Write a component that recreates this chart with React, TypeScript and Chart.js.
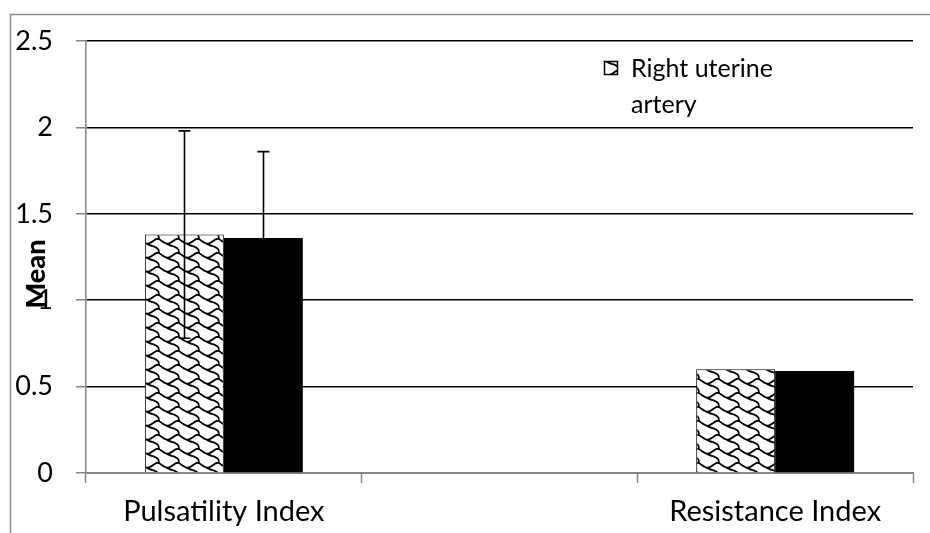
import React, { useEffect, useRef } from 'react';
import { Chart, registerables } from 'chart.js';

Chart.register(...registerables);

const categories = ['Pulsatility Index', '', 'Resistance Index'];
const rightUterine: (number | null)[] = [1.38, null, 0.6];
const leftUterine: (number | null)[] = [1.36, null, 0.59];
const rightErr = [0.6, 0, 0];
const leftErr = [0.5, 0, 0];
const yTicks = [0, 0.5, 1, 1.5, 2, 2.5];
const legendLines = ['Right uterine', 'artery'];
const yTitle = 'Mean';

const FONT = 'Lato, "Open Sans", sans-serif';
const GRAY = '#868686';

function makePattern(): CanvasPattern | string {
  const W = 20;
  const H = 14;
  const c = document.createElement('canvas');
  c.width = W;
  c.height = H;
  const g = c.getContext('2d');
  if (!g) return '#fff';
  g.fillStyle = '#fff';
  g.fillRect(0, 0, W, H);
  g.strokeStyle = '#000';
  g.lineWidth = 1.8;
  g.lineJoin = 'round';
  g.lineCap = 'round';
  const px = (cx: number) => ((cx + 0.5) * W) / 8;
  const py = (cy: number) => ((cy + 0.5) * H) / 8;
  const cup: [number, number][] = [[-1, 0], [0, 1], [1, 2], [2.5, 3], [4, 2], [5, 1], [6, 0], [7, 0]];
  const tail: [number, number][] = [[2.5, 3], [4, 4], [5, 4.2], [6, 5], [7, 6], [7, 8]];
  const drawSmooth = (pts: [number, number][], dx: number, dy: number) => {
    g.beginPath();
    const P = pts.map(([a, b]) => [px(a) + dx, py(b) + dy]);
    g.moveTo(P[0][0], P[0][1]);
    for (let i = 1; i < P.length - 1; i++) {
      const mx = (P[i][0] + P[i + 1][0]) / 2;
      const my = (P[i][1] + P[i + 1][1]) / 2;
      g.quadraticCurveTo(P[i][0], P[i][1], mx, my);
    }
    const last = P[P.length - 1];
    g.lineTo(last[0], last[1]);
    g.stroke();
  };
  for (const dx of [-W, 0, W]) {
    for (const dy of [-H, 0, H]) {
      drawSmooth(cup, dx, dy);
      drawSmooth(tail, dx, dy);
    }
  }
  const p = g.createPattern(c, 'repeat');
  return p || '#fff';
}

export default function App() {
  const ref = useRef<HTMLCanvasElement | null>(null);

  useEffect(() => {
    document.body.style.margin = '0';
    const canvas = ref.current;
    if (!canvas) return;
    const pattern = makePattern();

    const framePlugin = {
      id: 'frame',
      beforeDraw(chart: any) {
        const ctx = chart.ctx;
        ctx.save();
        ctx.fillStyle = '#fff';
        ctx.fillRect(0, 0, chart.width, chart.height);
        ctx.strokeStyle = '#8c8c8c';
        ctx.lineWidth = 1.5;
        ctx.beginPath();
        ctx.moveTo(10.5, chart.height + 2);
        ctx.lineTo(10.5, 14.5);
        ctx.lineTo(chart.width + 2, 14.5);
        ctx.stroke();
        ctx.restore();
      },
    };

    const errorPlugin = {
      id: 'errorBars',
      afterDatasetsDraw(chart: any) {
        const ctx = chart.ctx;
        const ys = chart.scales.y;
        [rightErr, leftErr].forEach((errs, di) => {
          const meta = chart.getDatasetMeta(di);
          meta.data.forEach((bar: any, i: number) => {
            const v = chart.data.datasets[di].data[i];
            const e = errs[i];
            if (v == null || !e) return;
            const x = Math.round(bar.x) + 0.5;
            const top = ys.getPixelForValue(v + e);
            const bot = ys.getPixelForValue(v - e);
            ctx.save();
            ctx.strokeStyle = '#000';
            ctx.lineWidth = 1.6;
            ctx.beginPath();
            ctx.moveTo(x, top);
            ctx.lineTo(x, bot);
            ctx.moveTo(x - 6, top);
            ctx.lineTo(x + 6, top);
            ctx.moveTo(x - 6, bot);
            ctx.lineTo(x + 6, bot);
            ctx.stroke();
            ctx.restore();
          });
        });
      },
    };

    const legendPlugin = {
      id: 'customLegend',
      afterDraw(chart: any) {
        const ctx = chart.ctx;
        const a = chart.chartArea;
        const bx = a.left + 518;
        const by = a.top + 20;
        ctx.save();
        ctx.fillStyle = pattern as any;
        ctx.fillRect(bx, by, 14, 14);
        ctx.strokeStyle = '#000';
        ctx.lineWidth = 1.5;
        ctx.strokeRect(bx + 0.5, by + 0.5, 13, 13);
        ctx.fillStyle = '#000';
        ctx.font = `25px ${FONT}`;
        ctx.textBaseline = 'alphabetic';
        ctx.textAlign = 'left';
        legendLines.forEach((line, i) => {
          ctx.fillText(line, bx + 27, by + 16 + i * 36);
        });
        // y-axis title
        ctx.font = `900 27px ${FONT}`;
        ctx.translate(45, 274);
        ctx.rotate(-Math.PI / 2);
        ctx.textAlign = 'center';
        ctx.textBaseline = 'alphabetic';
        ctx.fillText(yTitle, 0, 0);
        ctx.restore();
      },
    };

    const chart = new Chart(canvas, {
      type: 'bar',
      data: {
        labels: categories,
        datasets: [
          {
            label: 'Right uterine artery',
            data: rightUterine,
            backgroundColor: pattern as any,
            borderColor: '#000',
            borderWidth: 1,
            borderSkipped: 'bottom',
            categoryPercentage: 0.573,
            barPercentage: 1,
          },
          {
            label: 'Left uterine artery',
            data: leftUterine,
            backgroundColor: '#000',
            borderColor: '#000',
            borderWidth: 0,
            categoryPercentage: 0.573,
            barPercentage: 1,
          },
        ],
      },
      options: {
        responsive: false,
        animation: false,
        layout: { padding: { left: 0, top: 41, right: 17, bottom: 0 } },
        plugins: {
          legend: { display: false },
          tooltip: { enabled: false },
        },
        scales: {
          x: {
            grid: {
              offset: true,
              drawOnChartArea: false,
              drawTicks: true,
              tickLength: 10,
              tickColor: GRAY,
              tickWidth: 1.5,
            },
            border: { color: GRAY, width: 1.5 },
            ticks: {
              color: '#000',
              font: { family: FONT, size: 29 },
              padding: 11,
              maxRotation: 0,
              autoSkip: false,
            },
            afterFit(scale: any) {
              scale.height = 60;
            },
          },
          y: {
            min: 0,
            max: 2.5,
            afterBuildTicks(scale: any) {
              scale.ticks = yTicks.map((v) => ({ value: v }));
            },
            grid: {
              color: '#000',
              lineWidth: 1.5,
              drawTicks: true,
              tickLength: 10,
              tickColor: GRAY,
              tickWidth: 1.5,
            },
            border: { color: GRAY, width: 1.5 },
            ticks: {
              color: '#000',
              font: { family: FONT, size: 27 },
              padding: 23,
              callback: (v: any) => String(v),
            },
            afterFit(scale: any) {
              scale.width = 86;
            },
          },
        },
      },
      plugins: [framePlugin, errorPlugin, legendPlugin],
    });

    return () => chart.destroy();
  }, []);

  return (
    <div style={{ width: 930, height: 533, position: 'relative', background: '#fff' }}>
      <canvas ref={ref} width={930} height={533} style={{ display: 'block' }} />
    </div>
  );
}
